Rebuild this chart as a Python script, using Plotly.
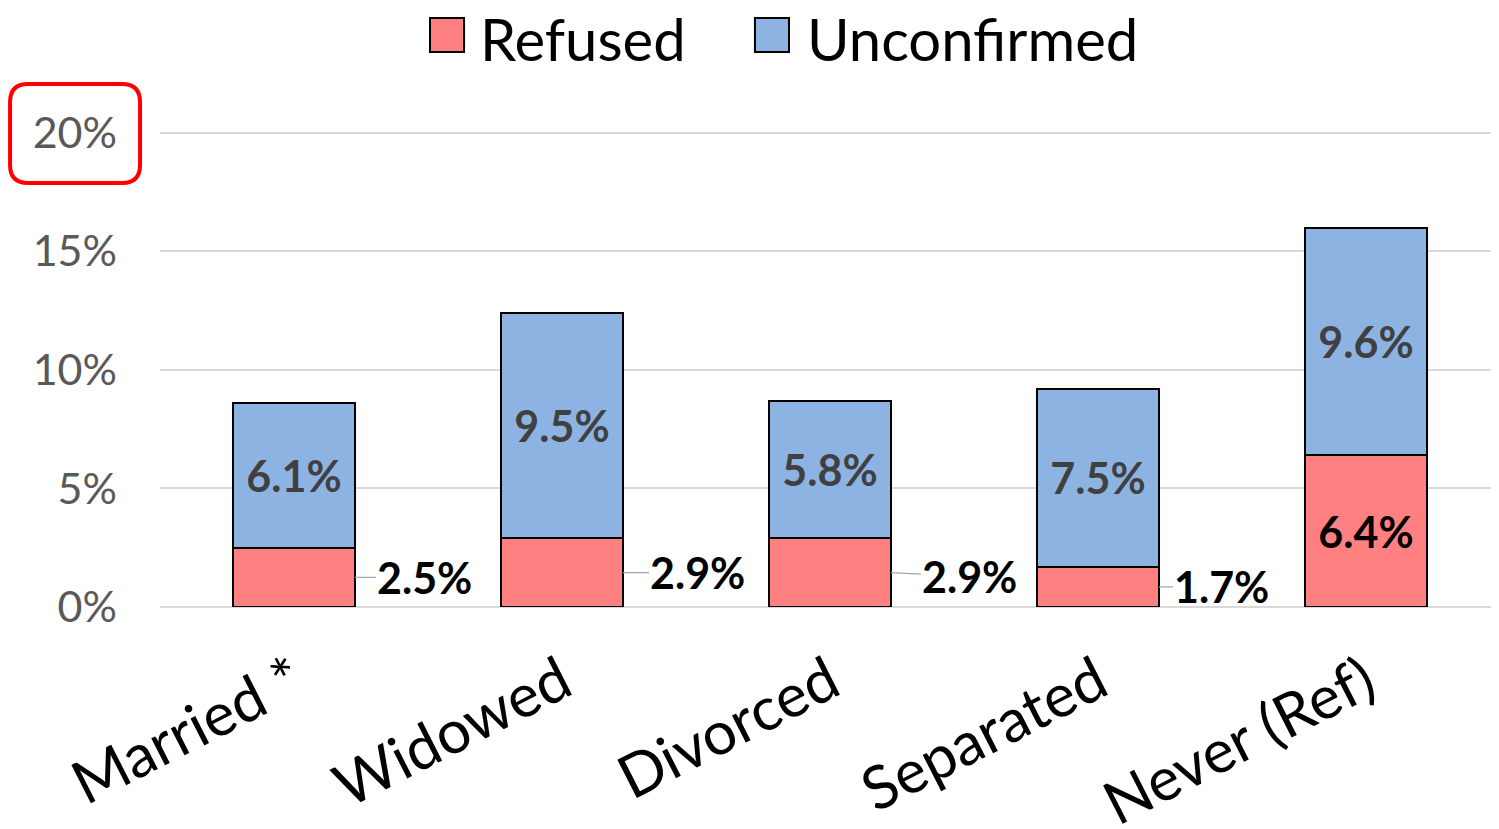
import plotly.graph_objects as go

# Data (percent)
categories = ["Married *", "Widowed", "Divorced", "Separated", "Never (Ref)"]
refused = [2.5, 2.9, 2.9, 1.7, 6.4]
unconfirmed = [6.1, 9.5, 5.8, 7.5, 9.6]
series_names = ["Refused", "Unconfirmed"]
y_ticks = [0, 5, 10, 15, 20]

RED = "#FF8080"
BLUE = "#8DB3E2"
FONT = "Lato"

# label the refused segment inside the bar only when it is tall enough
refused_inside = [f"{v:.1f}%" if v >= 4 else "" for v in refused]

fig = go.Figure()
fig.add_trace(go.Bar(
    x=categories, y=refused, name=series_names[0],
    marker=dict(color=RED, line=dict(color="black", width=2)),
    text=refused_inside, textposition="inside", insidetextanchor="middle",
    textangle=0, constraintext="none",
    textfont=dict(family=FONT, size=43, color="black", weight="bold"),
    showlegend=False,
))
fig.add_trace(go.Bar(
    x=categories, y=unconfirmed, name=series_names[1],
    marker=dict(color=BLUE, line=dict(color="black", width=2)),
    text=[f"{v:.1f}%" for v in unconfirmed], textposition="inside",
    insidetextanchor="middle", textangle=0, constraintext="none",
    textfont=dict(family=FONT, size=43, color="#404040", weight="bold"),
    showlegend=False,
))

# refused labels outside the bar, with a short leader line
half_bar = 0.2275
label_dx = [70, 75, 79, 63]
label_dy = [0, 0, 4, 0]
for i, v in enumerate(refused):
    if refused_inside[i]:
        continue
    fig.add_annotation(
        x=i + half_bar, y=v / 2, xref="x", yref="y",
        text=f"<b>{v:.1f}%</b>", showarrow=True, arrowhead=0,
        arrowwidth=1.2, arrowcolor="#A6A6A6",
        ax=label_dx[i], ay=label_dy[i],
        font=dict(family=FONT, size=43, color="black"),
    )

# hand-drawn legend with large square keys
legend_keys = [(0.2015, 0.2269, RED, 0.237), (0.444, 0.4694, BLUE, 0.481)]
for name, (x0, x1, col, tx) in zip(series_names, legend_keys):
    fig.add_shape(type="rect", xref="paper", yref="paper",
                  x0=x0, x1=x1, y0=1.1587, y1=1.2296,
                  fillcolor=col, line=dict(color="black", width=2))
    fig.add_annotation(x=tx, y=1.1875, xref="paper", yref="paper",
                       text=name, showarrow=False, xanchor="left", yanchor="middle",
                       font=dict(family=FONT, size=58, color="black"))

# red rounded box highlighting the 20% tick
x0, x1, y0, y1 = -0.1119, -0.0149, 0.8852, 1.0919
rx, ry = 18 / 1340, 18 / 479
path = (f"M {x0+rx},{y1} L {x1-rx},{y1} Q {x1},{y1} {x1},{y1-ry} "
        f"L {x1},{y0+ry} Q {x1},{y0} {x1-rx},{y0} L {x0+rx},{y0} "
        f"Q {x0},{y0} {x0},{y0+ry} L {x0},{y1-ry} Q {x0},{y1} {x0+rx},{y1} Z")
fig.add_shape(type="path", path=path, xref="paper", yref="paper",
              line=dict(color="#FF0000", width=4))

fig.update_layout(
    barmode="stack",
    bargap=0.545,
    width=1499, height=829,
    margin=dict(l=152, r=7, t=120, b=230),
    plot_bgcolor="white", paper_bgcolor="white",
    font=dict(family=FONT),
)
fig.update_xaxes(
    tickangle=-27, tickfont=dict(family=FONT, size=60, color="black"),
    showline=False, showgrid=False, ticklabelstandoff=28, automargin=False,
)
fig.update_yaxes(
    range=[0, 20.2], tickvals=y_ticks, ticktext=[f"{t}%" for t in y_ticks],
    tickfont=dict(family=FONT, size=43, color="#595959"),
    showgrid=True, gridcolor="#D9D9D9", gridwidth=2,
    zeroline=True, zerolinecolor="#D9D9D9", zerolinewidth=2,
    ticklabelstandoff=42, automargin=False,
)

fig.write_html("out.html")
